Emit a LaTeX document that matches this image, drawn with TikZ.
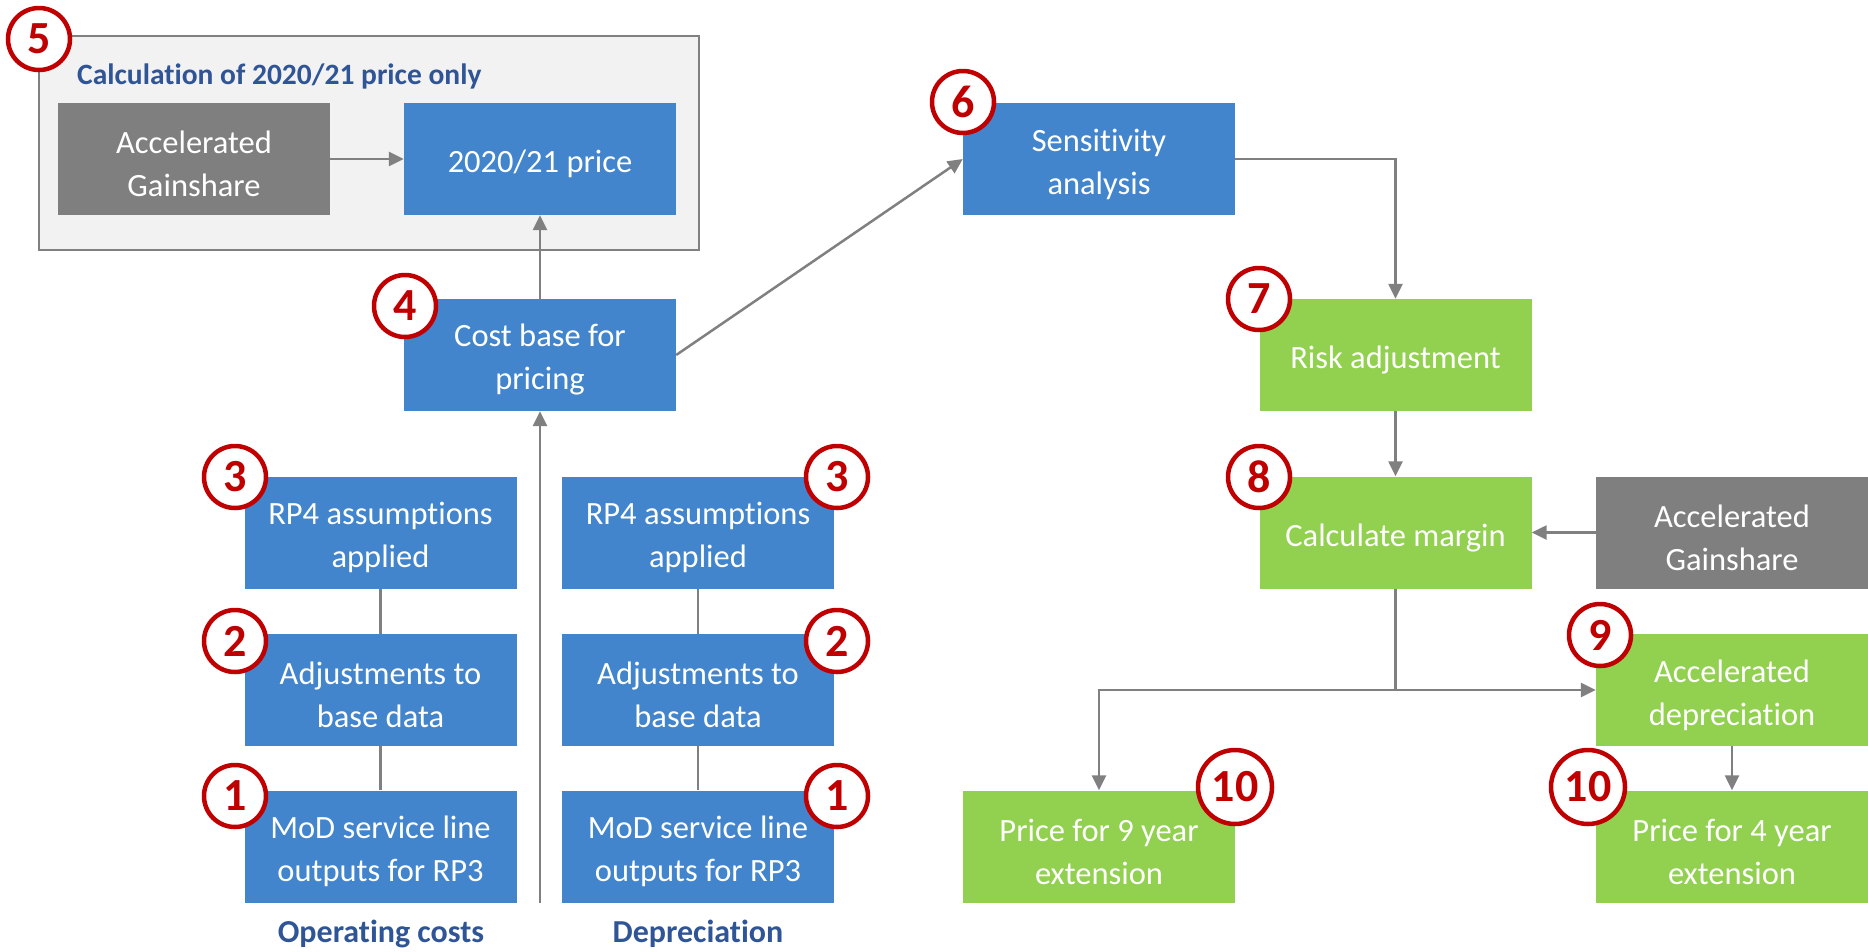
\documentclass[tikz,border=0pt]{standalone}
\usepackage{fontspec}
\setmainfont{Carlito}[Ligatures=NoCommon]
\usetikzlibrary{arrows.meta}
\definecolor{boxblue}{HTML}{4285CD}
\definecolor{boxgreen}{HTML}{92D050}
\definecolor{boxgrey}{HTML}{7F7F7F}
\definecolor{linegrey}{HTML}{808080}
\definecolor{contfill}{HTML}{F2F2F2}
\definecolor{numred}{HTML}{C00000}
\definecolor{titleblue}{HTML}{2F5597}
\tikzset{
  box/.style={rectangle, minimum width=272pt, minimum height=112pt, inner sep=0pt},
  boxtext/.style={text=white, align=center, inner sep=0pt, yshift=-5pt,
    font=\fontsize{32.5}{43}\selectfont},
  txt/.style={label={[boxtext]center:#1}},
  bluebox/.style={box, fill=boxblue},
  greenbox/.style={box, fill=boxgreen},
  greybox/.style={box, fill=boxgrey},
  numc/.style={circle, draw=numred, line width=4.5pt, fill=white, text=numred,
    inner sep=0pt, minimum size=62pt, font=\fontsize{46}{46}\selectfont\bfseries},
  numw/.style={numc, minimum size=74pt},
  conn/.style={draw=linegrey, line width=2.5pt},
  arr/.style={conn, -{Triangle[length=15pt,width=14pt]}},
  lbl/.style={text=titleblue, font=\fontsize{32}{38}\selectfont\bfseries, inner sep=0pt},
  container/.style={rectangle, draw=linegrey, line width=2pt, fill=contfill,
    minimum width=660pt, minimum height=214pt, inner sep=0pt}
}
\begin{document}
\begin{tikzpicture}[x=1pt, y=-1pt]
\useasboundingbox (0,0) rectangle (1868,951);
% container 5
\node[container] (c5) at (369,143) {};
\node[lbl, anchor=west, font=\fontsize{29.5}{34}\selectfont\bfseries] (title5) at (77,76) {Calculation of 2020/21 price only};
% boxes
\node[greybox, txt={Accelerated\\Gainshare}] (ag1) at (194,159) {};
\node[bluebox, txt={2020/21 price}] (p2020) at (540,159) {};
\node[bluebox, txt={Cost base for\\pricing}] (cost) at (540,355) {};
\node[bluebox, txt={Sensitivity\\analysis}] (sens) at (1099,159) {};
\node[greenbox, txt={Risk adjustment}] (risk) at (1395.5,355) {};
\node[greenbox, txt={Calculate margin}] (margin) at (1395.5,532.5) {};
\node[greybox, txt={Accelerated\\Gainshare}] (ag2) at (1732,532.5) {};
\node[greenbox, txt={Accelerated\\depreciation}] (accdep) at (1732,690) {};
\node[greenbox, txt={Price for 9 year\\extension}] (p9) at (1099,846.5) {};
\node[greenbox, txt={Price for 4 year\\extension}] (p4) at (1732,846.5) {};
% left column
\node[bluebox, txt={RP4 assumptions\\applied}] (l3) at (380.5,532.5) {};
\node[bluebox, txt={Adjustments to\\base data}] (l2) at (380.5,690) {};
\node[bluebox, txt={MoD service line\\outputs for RP3}] (l1) at (380.5,846.5) {};
% right column
\node[bluebox, txt={RP4 assumptions\\applied}] (r3) at (698,532.5) {};
\node[bluebox, txt={Adjustments to\\base data}] (r2) at (698,690) {};
\node[bluebox, txt={MoD service line\\outputs for RP3}] (r1) at (698,846.5) {};
% labels
\node[lbl] (opc) at (381,934) {Operating costs};
\node[lbl] (dep) at (698,934) {Depreciation};
% connectors
\coordinate (vbot) at (540,903);
\draw[arr] (ag1.east) -- (p2020.west);
\draw[arr] (cost.north) -- (p2020.south);
\draw[arr] (cost.east) -- (sens.west);
\draw[arr] (sens.east) -| (risk.north);
\draw[arr] (risk.south) -- (margin.north);
\draw[arr] (ag2.west) -- (margin.east);
\coordinate (branch) at (margin.south |- accdep.west);
\draw[arr] (margin.south) -- (branch) -- (accdep.west);
\draw[arr] (branch) -| (p9.north);
\draw[arr] (accdep.south) -- (p4.north);
\draw[conn] (l3.south) -- (l2.north);
\draw[conn] (l2.south) -- (l1.north);
\draw[conn] (r3.south) -- (r2.north);
\draw[conn] (r2.south) -- (r1.north);
\draw[arr] (vbot) -- (cost.south);
% numbers
\node[numc] (n5) at (39,39) {5};
\node[numc] (n4) at (405,306) {4};
\node[numc] (n6) at (963,102) {6};
\node[numc] (n7) at (1259,299) {7};
\node[numc] (n8) at (1259,477) {8};
\node[numc] (n9) at (1600,635) {9};
\node[numw] (n10a) at (1235,787) {10};
\node[numw] (n10b) at (1588,787) {10};
\node[numc] (n3a) at (235,477) {3};
\node[numc] (n2a) at (235,641) {2};
\node[numc] (n1a) at (235,796) {1};
\node[numc] (n3b) at (837,477) {3};
\node[numc] (n2b) at (837,641) {2};
\node[numc] (n1b) at (837,796) {1};
\end{tikzpicture}
\end{document}
